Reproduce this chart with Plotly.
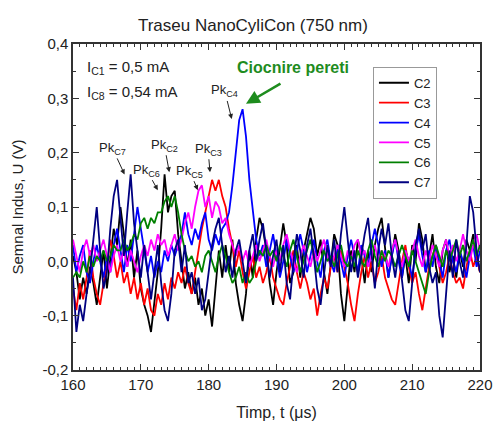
import plotly.graph_objects as go

t_start = 160.0
t_step = 0.5

c2 = [0.01, -0.02, -0.07, -0.03, -0.06, -0.01, -0.04, -0.08, -0.03, 0.02,
      -0.05, 0.00, 0.06, 0.03, 0.10, 0.05, -0.01, 0.04, -0.03, 0.02,
      -0.05, -0.08, -0.10, -0.13, -0.07, -0.02, 0.06, 0.16, 0.09, 0.12,
      0.13, 0.05, 0.00, -0.05, -0.02, -0.06, -0.03, -0.08, -0.05, -0.10,
      -0.07, -0.12, -0.05, 0.02, -0.03, 0.03, -0.02, 0.04, -0.04, -0.08,
      -0.11, -0.06, 0.02, -0.03, 0.04, 0.08, 0.06, 0.02, -0.04, -0.08,
      -0.02, 0.03, 0.07, 0.03, -0.04, -0.02, 0.03, -0.03, 0.02, 0.05,
      0.08, 0.06, 0.01, 0.04, -0.02, -0.06, 0.00, 0.05, 0.03, -0.06,
      -0.11, -0.05, 0.02, -0.02, 0.04, 0.01, -0.04, 0.02, -0.02, 0.03,
      0.06, 0.08, 0.03, -0.03, 0.01, 0.05, 0.02, -0.03, 0.01, -0.04,
      0.03, 0.00, 0.07, 0.04, -0.02, 0.01, 0.05, -0.01, -0.04, 0.02,
      0.04, -0.02, 0.01, -0.03, 0.02, -0.01, 0.04, 0.02, 0.05, 0.01,
      -0.02]

c3 = [-0.05, -0.09, -0.04, -0.07, -0.03, 0.02, -0.03, -0.06, -0.08, -0.04,
      -0.01, 0.04, 0.01, -0.03, 0.00, -0.04, -0.02, -0.06, -0.03, -0.07,
      -0.04, -0.08, -0.05, -0.09, -0.10, -0.06, -0.08, -0.04, -0.07, -0.03,
      -0.05, -0.02, -0.04, -0.01, -0.04, -0.06, -0.02, 0.02, 0.06, 0.09,
      0.12, 0.15, 0.13, 0.15, 0.12, 0.10, 0.06, 0.03, -0.01, 0.02,
      -0.02, -0.05, -0.02, 0.01, -0.03, -0.01, -0.04, -0.02, 0.01, -0.03,
      -0.05, -0.07, -0.08, -0.04, -0.01, 0.02, -0.02, -0.05, -0.02, -0.04,
      -0.07, -0.05, -0.10, -0.06, -0.03, -0.05, -0.01, 0.01, -0.02, 0.02,
      -0.01, -0.04, -0.08, -0.11, -0.06, -0.02, 0.01, -0.03, 0.00, -0.04,
      -0.02, 0.01, -0.03, -0.05, -0.07, -0.08, -0.04, 0.00, 0.03, -0.01,
      -0.04, -0.02, -0.06, -0.09, -0.05, -0.01, 0.01, 0.03, -0.01, -0.04,
      -0.02, 0.01, -0.02, -0.04, -0.03, -0.05, -0.01, 0.02, -0.01, 0.01,
      -0.02]

c4 = [0.03, -0.02, 0.01, 0.03, -0.02, -0.04, 0.00, 0.03, 0.00, -0.03,
      0.01, -0.02, 0.03, 0.06, 0.02, -0.02, 0.03, 0.00, 0.05, 0.10,
      0.06, 0.02, -0.02, 0.01, -0.03, 0.00, -0.02, 0.02, 0.00, 0.03,
      0.01, 0.03, 0.05, 0.09, 0.05, 0.03, 0.06, 0.04, 0.07, 0.09,
      0.04, 0.02, 0.05, 0.03, 0.06, 0.07, 0.09, 0.14, 0.20, 0.26,
      0.28, 0.23, 0.15, 0.09, 0.04, 0.01, 0.03, -0.01, 0.02, 0.05,
      0.01, -0.03, 0.00, 0.04, 0.01, -0.02, 0.02, 0.05, 0.02, -0.02,
      0.01, 0.04, 0.00, -0.03, 0.02, 0.04, 0.00, -0.02, 0.03, 0.00,
      -0.03, 0.01, 0.04, 0.01, -0.02, 0.03, 0.01, -0.01, 0.03, 0.06,
      0.03, -0.01, 0.02, -0.03, 0.01, 0.04, 0.00, -0.03, 0.02, 0.00,
      -0.03, 0.02, 0.05, 0.01, -0.02, 0.02, -0.01, 0.03, 0.00, -0.03,
      0.02, 0.04, 0.00, -0.02, 0.02, 0.00, -0.03, 0.01, 0.03, -0.01,
      0.02]

c5 = [0.04, 0.01, -0.02, 0.02, 0.04, 0.01, 0.03, 0.00, 0.02, 0.04,
      0.01, -0.02, 0.01, 0.03, 0.00, 0.02, -0.01, 0.02, 0.00, -0.02,
      0.01, 0.03, 0.01, 0.04, 0.02, 0.05, 0.03, 0.04, 0.01, 0.03,
      0.05, 0.02, 0.04, 0.07, 0.09, 0.06, 0.10, 0.13, 0.14, 0.10,
      0.12, 0.08, 0.11, 0.10, 0.07, 0.08, 0.05, 0.03, 0.01, 0.03,
      0.00, 0.02, -0.01, 0.01, 0.03, 0.00, 0.02, 0.04, 0.01, -0.01,
      0.02, 0.00, 0.03, 0.05, 0.02, 0.00, -0.02, 0.01, 0.03, 0.01,
      -0.01, 0.02, 0.00, 0.02, 0.04, 0.01, -0.01, 0.01, 0.03, 0.01,
      -0.01, 0.02, 0.00, 0.03, 0.04, 0.01, 0.02, -0.01, 0.01, 0.03,
      0.00, 0.02, 0.01, -0.01, 0.02, 0.04, 0.01, -0.01, 0.02, 0.00,
      0.02, 0.04, 0.01, -0.01, 0.02, 0.00, 0.03, 0.01, -0.01, 0.02,
      0.04, 0.01, 0.03, 0.00, 0.02, 0.05, 0.02, 0.00, 0.03, 0.05,
      0.02]

c6 = [-0.03, -0.02, -0.03, 0.00, -0.02, 0.01, -0.01, 0.01, 0.00, 0.02,
      0.00, 0.01, 0.03, 0.02, 0.02, 0.04, 0.02, 0.03, 0.05, 0.04,
      0.07, 0.08, 0.06, 0.08, 0.07, 0.09, 0.09, 0.11, 0.12, 0.10,
      0.12, 0.09, 0.05, 0.02, 0.00, 0.01, -0.01, 0.00, -0.02, 0.01,
      0.02, 0.00, -0.02, 0.01, 0.03, 0.01, -0.02, -0.04, -0.03, -0.01,
      -0.04, -0.02, -0.04, -0.03, 0.00, 0.02, 0.01, 0.03, 0.01, 0.02,
      0.00, 0.03, 0.01, -0.01, 0.02, 0.04, 0.01, -0.02, 0.00, 0.02,
      0.04, 0.01, -0.02, 0.00, 0.02, 0.00, 0.01, -0.01, 0.01, 0.03,
      0.00, -0.01, 0.01, -0.01, 0.02, 0.00, -0.01, 0.02, 0.04, 0.01,
      -0.01, 0.02, 0.00, 0.02, 0.01, -0.01, 0.01, 0.03, 0.01, -0.01,
      0.02, 0.00, -0.02, -0.04, -0.06, -0.02, 0.01, 0.03, 0.01, -0.01,
      0.02, 0.00, 0.02, 0.04, 0.01, 0.03, 0.00, 0.02, 0.04, 0.01,
      0.03]

c7 = [-0.03, -0.13, -0.08, -0.11, -0.06, -0.02, 0.04, 0.10, 0.02, -0.05,
      -0.02, 0.06, 0.12, 0.15, 0.08, 0.01, 0.09, 0.16, 0.07, 0.02,
      -0.03, 0.03, -0.02, -0.07, -0.02, 0.03, -0.04, -0.09, -0.11, -0.06,
      0.02, 0.04, -0.02, 0.03, -0.04, -0.02, -0.06, -0.03, -0.09, -0.07,
      -0.02, 0.03, 0.06, 0.08, 0.03, -0.02, 0.01, -0.03, 0.02, 0.04,
      0.00, -0.04, 0.02, 0.05, 0.00, 0.04, 0.07, 0.02, -0.03, 0.01,
      0.04, -0.02, 0.03, -0.04, -0.07, 0.00, 0.05, 0.02, -0.03, 0.03,
      0.06, 0.01, -0.05, -0.08, -0.02, 0.03, -0.01, 0.04, -0.02, 0.05,
      0.10, 0.04, -0.02, 0.02, -0.03, 0.01, 0.05, 0.08, 0.02, -0.05,
      0.02, 0.06, 0.03, 0.07, 0.01, -0.03, 0.02, -0.04, -0.09, -0.11,
      -0.04, 0.03, 0.06, 0.02, 0.05, -0.01, -0.04, -0.02, -0.10, -0.14,
      -0.06, 0.02, -0.03, 0.04, 0.00, -0.03, 0.03, 0.12, 0.09, 0.02,
      -0.02]

series_names = ["C2", "C3", "C4", "C5", "C6", "C7"]
series_values = [c2, c3, c4, c5, c6, c7]
series_colors = ["#000000", "#ff0000", "#0000ff", "#ff00ff", "#008000", "#000080"]

y_tickvals = [-0.2, -0.1, 0.0, 0.1, 0.2, 0.3, 0.4]
y_ticktext = ["-0,2", "-0,1", "0,0", "0,1", "0,2", "0,3", "0,4"]
y_minorvals = [-0.15, -0.05, 0.05, 0.15, 0.25, 0.35]
x_tickvals = [160, 170, 180, 190, 200, 210, 220]

# peak labels: (label, arrow head t, arrow head U, text offset px)
peaks = [
    ("Pk<sub>C7</sub>", 167.6, 0.160, -12, -26),
    ("Pk<sub>C6</sub>", 172.5, 0.131, -11, -20),
    ("Pk<sub>C2</sub>", 174.2, 0.164, -5, -27),
    ("Pk<sub>C5</sub>", 178.4, 0.131, -8, -19),
    ("Pk<sub>C3</sub>", 180.2, 0.164, -2, -23),
    ("Pk<sub>C4</sub>", 183.4, 0.262, -7, -28),
]

fig = go.Figure()
for name, vals, col in zip(series_names, series_values, series_colors):
    ts = [t_start + t_step * i for i in range(len(vals))]
    fig.add_trace(go.Scatter(x=ts, y=vals, mode="lines", name=name,
                             line=dict(color=col, width=1.8)))
# empty trace to activate mirror axes (top/right ticks)
fig.add_trace(go.Scatter(x=[], y=[], xaxis="x2", yaxis="y2", showlegend=False,
                         hoverinfo="skip"))

font_family = "Liberation Sans, Arial, sans-serif"
axcol = "#333333"
tick_font = dict(size=15, color="#222222", family=font_family)

fig.update_layout(
    xaxis=dict(range=[160, 220], tickvals=x_tickvals, automargin=False,
               showline=True, linecolor=axcol, linewidth=1.5, mirror=True,
               ticks="inside", ticklen=6, tickwidth=1.2, tickcolor=axcol,
               minor=dict(ticks="inside", dtick=1, ticklen=3, tickcolor=axcol, tickwidth=1),
               showgrid=False, zeroline=False, tickfont=tick_font,
               title=dict(text="Timp, t (μs)", font=dict(size=16, color="#222222", family=font_family))),
    yaxis=dict(range=[-0.2, 0.4], tickvals=y_tickvals, ticktext=y_ticktext, automargin=False,
               showline=True, linecolor=axcol, linewidth=1.5, mirror=True,
               ticks="inside", ticklen=6, tickwidth=1.2, tickcolor=axcol,
               minor=dict(ticks="inside", tickvals=y_minorvals, ticklen=3, tickcolor=axcol, tickwidth=1),
               showgrid=False, zeroline=False, tickfont=tick_font,
               title=dict(text="Semnal Indus, U (V)", font=dict(size=15, color="#222222", family=font_family))),
    xaxis2=dict(range=[160, 220], tickvals=x_tickvals, overlaying="x", side="top",
                anchor="y2", automargin=False, showline=False, showticklabels=False,
                ticks="inside", ticklen=6, tickwidth=1.2, tickcolor=axcol,
                minor=dict(ticks="inside", dtick=1, ticklen=3, tickcolor=axcol, tickwidth=1),
                showgrid=False, zeroline=False),
    yaxis2=dict(range=[-0.2, 0.4], tickvals=y_tickvals, overlaying="y", side="right",
                anchor="x2", automargin=False, showline=False, showticklabels=False,
                ticks="inside", ticklen=6, tickwidth=1.2, tickcolor=axcol,
                minor=dict(ticks="inside", tickvals=y_minorvals, ticklen=3, tickcolor=axcol, tickwidth=1),
                showgrid=False, zeroline=False),
)

annotations = []
for label, tx, ty, ax, ay in peaks:
    annotations.append(dict(x=tx, y=ty, xref="x", yref="y", text=label,
                            showarrow=True, ax=ax, ay=ay, arrowhead=2, arrowsize=1,
                            arrowwidth=1, arrowcolor="#222222", standoff=0,
                            font=dict(size=13, color="#222222", family=font_family)))

annotations.append(dict(x=185.5, y=0.29, xref="x", yref="y", text="",
                        showarrow=True, ax=36, ay=-21, arrowhead=2, arrowsize=1.1,
                        arrowwidth=2.5, arrowcolor="#1e8c1e"))
annotations.append(dict(x=0.54, y=0.929, xref="paper", yref="paper",
                        text="<b>Ciocnire pereti</b>", showarrow=False,
                        xanchor="center", yanchor="middle",
                        font=dict(size=16, color="#1e8c1e", family=font_family)))
annotations.append(dict(x=0.03, y=0.929, xref="paper", yref="paper",
                        text="I<sub>C1</sub> = 0,5 mA", showarrow=False,
                        xanchor="left", yanchor="middle",
                        font=dict(size=15, color="#222222", family=font_family)))
annotations.append(dict(x=0.03, y=0.85, xref="paper", yref="paper",
                        text="I<sub>C8</sub> = 0,54 mA", showarrow=False,
                        xanchor="left", yanchor="middle",
                        font=dict(size=15, color="#222222", family=font_family)))

fig.update_layout(
    width=494, height=425,
    margin=dict(l=73, r=14, t=44, b=55),
    paper_bgcolor="white", plot_bgcolor="white",
    title=dict(text="Traseu NanoCyliCon (750 nm)", x=0.512, xanchor="center",
               y=1 - 25 / 425, yanchor="middle", yref="container",
               font=dict(size=17, color="#222222", family=font_family)),
    showlegend=True,
    legend=dict(x=0.737, y=0.93, xanchor="left", yanchor="top",
                bordercolor="#999999", borderwidth=1, bgcolor="white",
                font=dict(size=13, color="#222222", family=font_family),
                tracegroupgap=0, itemwidth=30),
    annotations=annotations,
    font=dict(family=font_family),
    hovermode=False,
)

fig.write_html("out.html",
               config={"displayModeBar": False, "staticPlot": False},
               post_script="document.body.style.margin='0';document.body.style.overflow='hidden';")
